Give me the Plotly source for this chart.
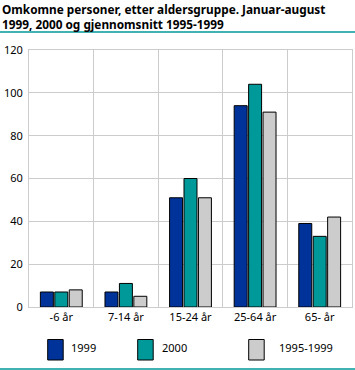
import plotly.graph_objects as go

categories = ["-6 år", "7-14 år", "15-24 år", "25-64 år", "65- år"]
series_names = ["1999", "2000", "1995-1999"]
values_1999 = [7, 7, 51, 94, 39]
values_2000 = [7, 11, 60, 104, 33]
values_avg = [8, 5, 51, 91, 42]
colors = ["#003399", "#009999", "#cccccc"]
title_lines = ["Omkomne personer, etter aldersgruppe. Januar-august",
               "1999, 2000 og gjennomsnitt 1995-1999"]
y_ticks = [0, 20, 40, 60, 80, 100, 120]

W, H = 355, 370
L, R, T, B = 29, 3, 50, 63
PW, PH = W - L - R, H - T - B


def px(x):
    return (x - L) / PW


def py(y):
    return (H - B - y) / PH


fig = go.Figure()
for name, vals, col in zip(series_names, [values_1999, values_2000, values_avg], colors):
    fig.add_trace(go.Bar(x=categories, y=vals, name=name,
                         marker=dict(color=col, line=dict(color="black", width=1)),
                         showlegend=False))

font = "Noto Sans"
fig.update_layout(
    width=W, height=H,
    margin=dict(l=L, r=R, t=T, b=B, autoexpand=False),
    paper_bgcolor="white", plot_bgcolor="white",
    barmode="group", bargap=0.33, bargroupgap=0.1,
    font=dict(family=font, size=11, color="black"),
    xaxis=dict(type="category", tickson="boundaries", showgrid=True,
               gridcolor="#cccccc", gridwidth=1, ticks="", automargin=False,
               showline=True, linecolor="#cccccc", linewidth=1, mirror=True,
               range=[-0.5, 4.5], tickfont=dict(size=11), zeroline=False),
    yaxis=dict(range=[0, 120], tickvals=y_ticks, showgrid=True,
               gridcolor="#cccccc", gridwidth=1, ticks="", automargin=False,
               showline=True, linecolor="#cccccc", linewidth=1, mirror=True,
               zeroline=False, tickfont=dict(size=11), ticklabelstandoff=3),
)

# title
fig.add_annotation(text="<br>".join(title_lines), xref="paper", yref="paper",
                   x=px(0), y=py(-1.5), xanchor="left", yanchor="top", align="left",
                   showarrow=False,
                   font=dict(family=font, size=11.8, weight="bold"))
# separator lines
for yy in [32, 369]:
    fig.add_shape(type="line", xref="paper", yref="paper",
                  x0=px(0), x1=px(W), y0=py(yy), y1=py(yy),
                  line=dict(color="#009999", width=1.5))

# legend
leg_x = [47.7, 137.7, 248.7]
txt_x = [69, 160, 277]
for name, col, lx, tx in zip(series_names, colors, leg_x, txt_x):
    fig.add_shape(type="rect", xref="paper", yref="paper",
                  x0=px(lx), x1=px(lx + 15.5), y0=py(339.5), y1=py(360),
                  fillcolor=col, line=dict(color="black", width=1))
    fig.add_annotation(text=name, xref="paper", yref="paper",
                       x=px(tx), y=py(347.5), xanchor="left", yanchor="middle",
                       showarrow=False, font=dict(family=font, size=11))

fig.write_html("out.html", config={"displayModeBar": False},
               post_script="document.body.style.margin='0';document.body.style.padding='0';")
